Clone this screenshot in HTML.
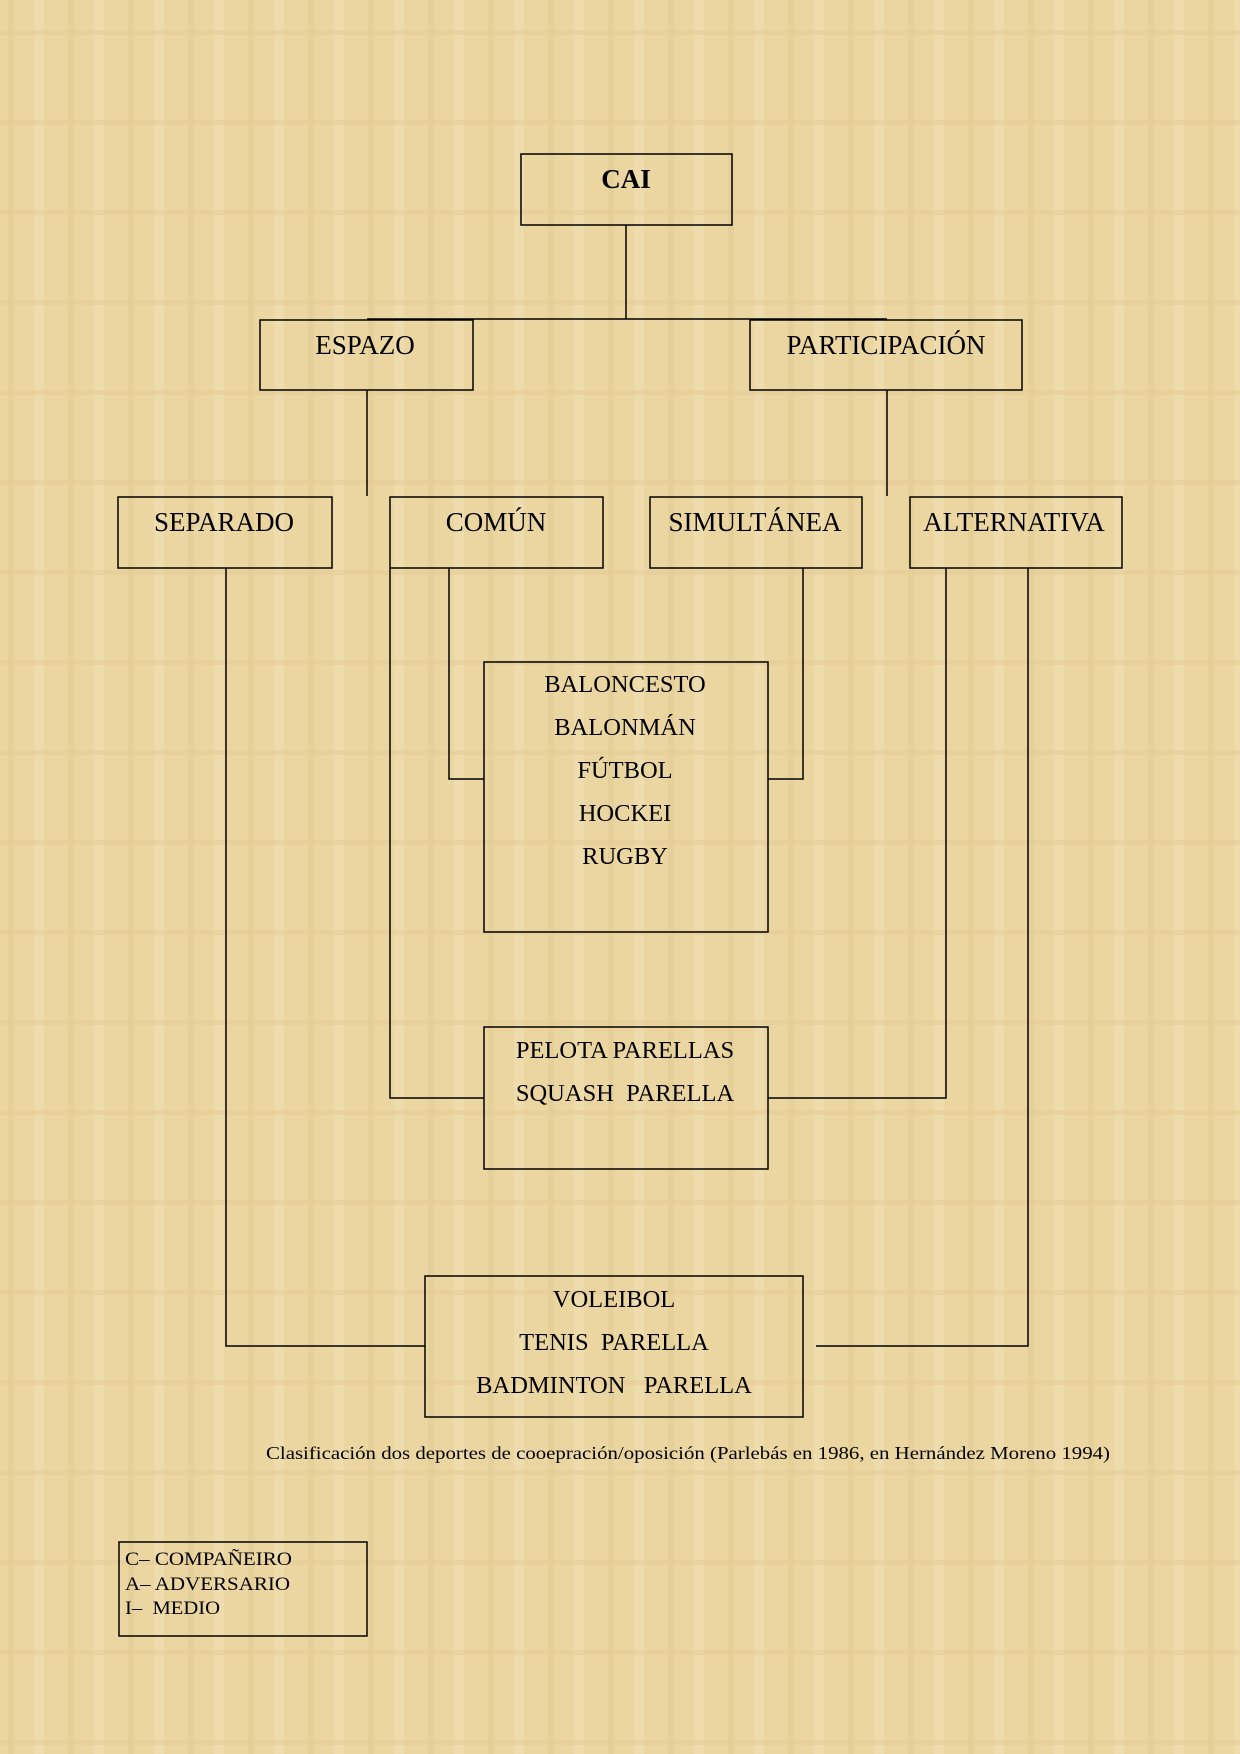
<!DOCTYPE html>
<html><head><meta charset="utf-8"><style>
html,body{margin:0;padding:0;}
body{width:1240px;height:1754px;background:#ebd6a2;overflow:hidden;}
svg{display:block;}
text{font-family:"Liberation Serif",serif;fill:#000;}
</style></head><body>
<svg width="1240" height="1754" viewBox="0 0 1240 1754">
<defs>
<pattern id="p" width="60" height="90" patternUnits="userSpaceOnUse">
<rect width="60" height="90" fill="#ebd6a2"/>
<rect x="8" width="6" height="90" fill="#e3cb92" opacity=".6"/>
<rect x="34" width="10" height="90" fill="#f1e0b2" opacity=".6"/>
<rect y="30" width="60" height="5" fill="#e2c990" opacity=".4"/>
</pattern>
</defs>
<rect width="1240" height="1754" fill="url(#p)"/>
<g fill="none" stroke="#000" stroke-width="1.5">
<rect x="521" y="154" width="211" height="71"/>
<rect x="260" y="320" width="213" height="70"/>
<rect x="750" y="320" width="272" height="70"/>
<rect x="118" y="497" width="214" height="71"/>
<rect x="390" y="497" width="213" height="71"/>
<rect x="650" y="497" width="212" height="71"/>
<rect x="910" y="497" width="212" height="71"/>
<rect x="484" y="662" width="284" height="270"/>
<rect x="484" y="1027" width="284" height="142"/>
<rect x="425" y="1276" width="378" height="141"/>
<rect x="119" y="1542" width="248" height="94"/>
<polyline points="626,225 626,319"/>
<polyline points="367,319 887,319"/>
<polyline points="367,390 367,496"/>
<polyline points="887,390 887,496"/>
<polyline points="449,568 449,779 484,779"/>
<polyline points="803,568 803,779 768,779"/>
<polyline points="390,568 390,1098 484,1098"/>
<polyline points="946,568 946,1098 768,1098"/>
<polyline points="226,568 226,1346 425,1346"/>
<polyline points="1028,568 1028,1346 816,1346"/>
</g>
<g font-size="27" text-anchor="middle">
<text x="626" y="188" font-weight="bold">CAI</text>
<text x="365" y="354">ESPAZO</text>
<text x="886" y="354">PARTICIPACIÓN</text>
<text x="224" y="531">SEPARADO</text>
<text x="496" y="531">COMÚN</text>
<text x="755" y="531">SIMULTÁNEA</text>
<text x="1014" y="531">ALTERNATIVA</text>
<g font-size="24.5">
<text x="625" y="692">BALONCESTO</text>
<text x="625" y="735">BALONMÁN</text>
<text x="625" y="778">FÚTBOL</text>
<text x="625" y="821">HOCKEI</text>
<text x="625" y="864">RUGBY</text>
<text x="625" y="1058">PELOTA PARELLAS</text>
<text x="625" y="1101" xml:space="preserve">SQUASH  PARELLA</text>
<text x="614" y="1307">VOLEIBOL</text>
<text x="614" y="1350" xml:space="preserve">TENIS  PARELLA</text>
<text x="614" y="1393" xml:space="preserve">BADMINTON   PARELLA</text>
</g>
</g>
<text x="266" y="1459" font-size="18" textLength="844" lengthAdjust="spacingAndGlyphs">Clasificación dos deportes de cooepración/oposición (Parlebás en 1986, en Hernández Moreno 1994)</text>
<g font-size="19">
<text x="125" y="1565" textLength="167" lengthAdjust="spacingAndGlyphs">C– COMPAÑEIRO</text>
<text x="125" y="1590" textLength="165" lengthAdjust="spacingAndGlyphs">A– ADVERSARIO</text>
<text x="125" y="1614" textLength="95" lengthAdjust="spacingAndGlyphs" xml:space="preserve">I–  MEDIO</text>
</g>
</svg>
</body></html>
